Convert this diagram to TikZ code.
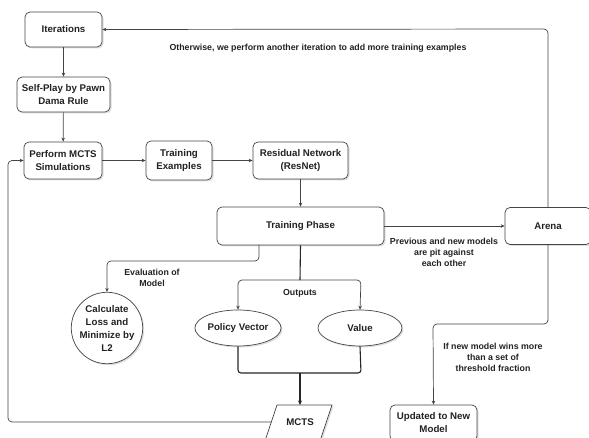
\documentclass[tikz,border=0pt]{standalone}
\usepackage{fontspec}
\setmainfont{Liberation Sans}
\usetikzlibrary{shapes.geometric,arrows.meta,shadows}
\definecolor{txt}{HTML}{222222}
\definecolor{ln}{HTML}{444444}
\begin{document}
\begin{tikzpicture}[x=1pt,y=-1pt,
  font=\fontsize{9.7}{13}\selectfont\bfseries, text=txt,
  shad/.style={drop shadow={opacity=0.25,shadow xshift=1.5pt,shadow yshift=-1.5pt}},
  box/.style={draw=ln, line width=0.7pt, fill=white, rounded corners=5pt, align=center, inner sep=1pt, shad},
  oval/.style={draw=ln, line width=0.7pt, fill=white, ellipse, align=center, inner sep=0pt, shad},
  lbl/.style={font=\fontsize{8.8}{11}\selectfont\bfseries, align=center, inner sep=0pt},
  conn/.style={draw=ln, line width=0.7pt, rounded corners=4pt},
  arr/.style={conn, -{Stealth[length=4pt,width=3.5pt]}},
  thick conn/.style={draw=black!85, line width=1.1pt, rounded corners=3pt},
]
\useasboundingbox (0,0) rectangle (589,438);

\node[box, minimum width=77pt, minimum height=35pt] (iter) at (63.5,29.5) {Iterations};
\node[box, minimum width=93pt, minimum height=35pt] (self) at (63.5,94.5) {Self-Play by Pawn\\Dama Rule};
\node[box, minimum width=78pt, minimum height=37pt] (perf) at (63,160.5) {Perform MCTS\\Simulations};
\node[box, minimum width=66pt, minimum height=39pt] (tex) at (179,160.5) {Training\\Examples};
\node[box, minimum width=95pt, minimum height=37pt] (res) at (300.5,160.5) {Residual Network\\(ResNet)};
\node[box, minimum width=167pt, minimum height=38pt] (tp) at (300.5,226) {Training Phase};
\node[box, minimum width=86pt, minimum height=37pt] (arena) at (548,226) {Arena};
\node[box, minimum width=87pt, minimum height=36pt] (upd) at (433.5,423) {Updated to New\\Model};
\node[oval, circle, minimum size=66pt] (loss) at (107,328) {Calculate\\Loss and\\Minimize by\\L2};
\node[oval, minimum width=82pt, minimum height=36pt] (pol) at (238,328) {Policy Vector};
\node[oval, minimum width=84pt, minimum height=36pt] (val) at (360,328) {Value};

% MCTS parallelogram
\draw[draw=ln, line width=0.7pt, fill=white, shad] (277,405) -- (332,405) -- (320,441) -- (265,441) -- cycle;
\node (mcts) at (300,422) {MCTS};
\coordinate (mctsL) at (271,422);

% connectors
\draw[arr] (iter) -- (self);
\draw[arr] (self) -- (perf);
\draw[arr] (perf) -- (tex);
\draw[arr] (tex) -- (res);
\draw[arr] (res) -- (tp);
\draw[arr] (tp) -- (arena);
\draw[arr] (arena.north) -- (548,29) -- (iter.east);
\draw[arr] (arena.south) -- (548,324) -- (433,324) -- (upd.north);
\draw[arr] (259,245) -- (259,261) -- (107,261) -- (loss.north);
\draw[thick conn] (tp.south) -- (300,280);
\draw[arr] (300,280) -- (238,280) -- (pol.north);
\draw[arr] (300,280) -- (361,280) -- (val.north);
\draw[thick conn] (pol.south) -- (238,373) -- (361,373) -- (val.south);
\draw[thick conn, sharp corners, -{Stealth[length=4.5pt,width=4pt]}] (300,373) -- (300,405);
\draw[arr] (mctsL) -- (8,422) -- (8,160.5) -- (perf.west);

% labels
\node[lbl] (l1) at (318,48) {Otherwise, we perform another iteration to add more training examples};
\node[lbl] (l2) at (444,252) {Previous and new models\\are pit against\\each other};
\node[lbl] (l3) at (152,277.5) {Evaluation of\\Model};
\node[lbl] (l4) at (300,293) {Outputs};
\node[lbl] (l5) at (493,357.5) {If new model wins more\\than a set of\\threshold fraction};
\end{tikzpicture}
\end{document}
